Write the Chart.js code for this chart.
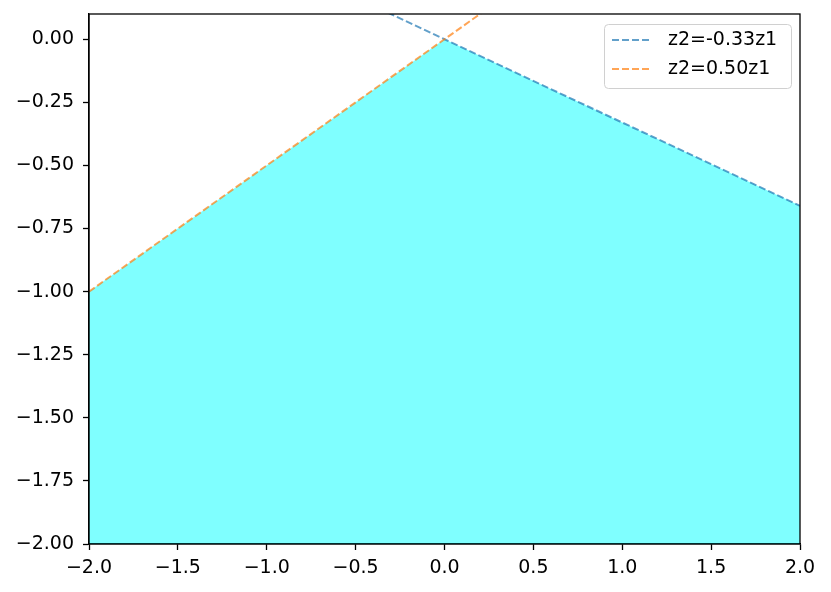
<!DOCTYPE html>
<html><head><meta charset="utf-8">
<script src="https://cdn.jsdelivr.net/npm/chart.js@4/dist/chart.umd.min.js"></script>
<style>html,body{margin:0;padding:0;background:#fff}#wrap{width:831px;height:592px}</style>
</head><body><div id="wrap"><canvas id="c" width="831" height="592"></canvas></div>
<script>
const z1 = [-2, 0, 2];
const lineA = [0.66, 0, -0.66];   // z2=-0.33z1
const lineB = [-1, 0, 1];         // z2=0.50z1
const region = [-1, 0, -0.66];    // lower envelope of feasible region
const labels = ['z2=-0.33z1', 'z2=0.50z1'];
const xTicks = [-2, -1.5, -1, -0.5, 0, 0.5, 1, 1.5, 2];
const yTicks = [-2, -1.75, -1.5, -1.25, -1, -0.75, -0.5, -0.25, 0];

const pts = ys => z1.map((x, i) => ({x, y: ys[i]}));
const fmt = (v, d) => (v < 0 ? '\u2212' : '') + Math.abs(v).toFixed(d);
const FONT = {family: 'DejaVu Sans', size: 19};
const cA = 'rgba(31,119,180,0.7)', cB = 'rgba(255,127,14,0.7)';

const frame = {
  id: 'frame',
  afterDatasetsDraw(chart) {
    const {ctx, chartArea: a} = chart;
    ctx.save();
    ctx.strokeStyle = '#000'; ctx.lineWidth = 1.3;
    ctx.strokeRect(a.left, a.top, a.right - a.left, a.bottom - a.top);
    // legend
    const bx = 604, by = 24, bw = 187, bh = 64;
    ctx.fillStyle = 'rgba(255,255,255,0.8)';
    ctx.strokeStyle = '#d0d0d0'; ctx.lineWidth = 1;
    ctx.beginPath();
    if (ctx.roundRect) ctx.roundRect(bx + 0.5, by + 0.5, bw, bh, 4); else ctx.rect(bx + 0.5, by + 0.5, bw, bh);
    ctx.fill(); ctx.stroke();
    const rows = [[cA, labels[0], 40], [cB, labels[1], 69]];
    ctx.font = '19px "DejaVu Sans"';
    ctx.textBaseline = 'middle';
    for (const [col, t, y] of rows) {
      ctx.strokeStyle = col; ctx.lineWidth = 2; ctx.setLineDash([7, 3]);
      ctx.beginPath(); ctx.moveTo(612, y); ctx.lineTo(652, y); ctx.stroke();
      ctx.setLineDash([]);
      ctx.fillStyle = '#000'; ctx.fillText(t, 668, y);
    }
    ctx.restore();
  }
};

new Chart(document.getElementById('c'), {
  type: 'line',
  data: {
    datasets: [
      {data: pts(region), fill: 'start', backgroundColor: 'rgba(0,255,255,0.5)', borderWidth: 0, pointRadius: 0, order: 10, tension: 0},
      {label: labels[0], data: pts(lineA), borderColor: cA, borderWidth: 2, borderDash: [7, 3], pointRadius: 0, fill: false, order: 2, clip: 0},
      {label: labels[1], data: pts(lineB), borderColor: cB, borderWidth: 2, borderDash: [7, 3], pointRadius: 0, fill: false, order: 1, clip: 0}
    ]
  },
  options: {
    responsive: false, animation: false,
    layout: {padding: {top: 14, right: 31, left: 0, bottom: 0}},
    plugins: {legend: {display: false}, tooltip: {enabled: false}},
    scales: {
      x: {
        type: 'linear', min: -2, max: 2,
        afterBuildTicks: s => { s.ticks = xTicks.map(v => ({value: v})); },
        afterFit: s => { s.height = 48; s.paddingLeft = 0; s.paddingRight = 0; },
        grid: {drawOnChartArea: false, drawTicks: true, tickLength: 6, color: '#000', tickWidth: 1.3},
        border: {color: '#000', width: 1.3},
        ticks: {color: '#000', font: FONT, padding: 7, maxRotation: 0, callback: v => fmt(v, 1)}
      },
      y: {
        type: 'linear', min: -2, max: 0.1,
        afterBuildTicks: s => { s.ticks = yTicks.map(v => ({value: v})); },
        afterFit: s => { s.width = 89; s.paddingTop = 0; s.paddingBottom = 0; },
        grid: {drawOnChartArea: false, drawTicks: true, tickLength: 6, color: '#000', tickWidth: 1.3},
        border: {color: '#000', width: 1.3},
        ticks: {color: '#000', font: FONT, padding: 9, callback: v => fmt(v, 2)}
      }
    }
  },
  plugins: [frame]
});
</script></body></html>
